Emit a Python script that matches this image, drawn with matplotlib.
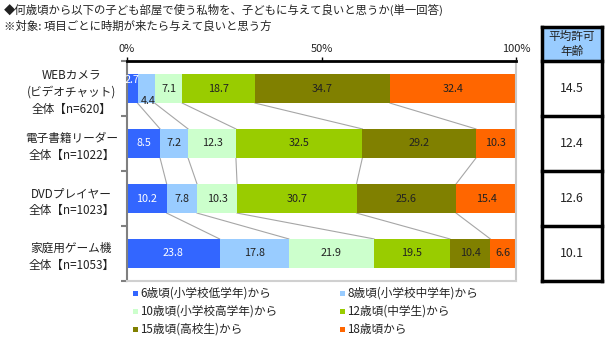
import matplotlib
matplotlib.use("Agg")
import matplotlib.pyplot as plt
from matplotlib.patches import Rectangle
import numpy as np

plt.rcParams['font.family'] = ['Noto Sans CJK JP', 'DejaVu Sans']

title_lines = ["◆何歳頃から以下の子ども部屋で使う私物を、子どもに与えて良いと思うか(単一回答)",
               "※対象: 項目ごとに時期が来たら与えて良いと思う方"]
categories = ["WEBカメラ\n(ビデオチャット)\n全体【n=620】",
              "電子書籍リーダー\n全体【n=1022】",
              "DVDプレイヤー\n全体【n=1023】",
              "家庭用ゲーム機\n全体【n=1053】"]
series_names = ["6歳頃(小学校低学年)から", "8歳頃(小学校中学年)から",
                "10歳頃(小学校高学年)から", "12歳頃(中学生)から",
                "15歳頃(高校生)から", "18歳頃から"]
s6 = [2.7, 8.5, 10.2, 23.8]
s8 = [4.4, 7.2, 7.8, 17.8]
s10 = [7.1, 12.3, 10.3, 21.9]
s12 = [18.7, 32.5, 30.7, 19.5]
s15 = [34.7, 29.2, 25.6, 10.4]
s18 = [32.4, 10.3, 15.4, 6.6]
avg_age = [14.5, 12.4, 12.6, 10.1]
table_header = "平均許可\n年齢"
xticks = [0, 50, 100]
xticklabels = ["0%", "50%", "100%"]

colors = ["#3366FF", "#99CCFF", "#CCFFCC", "#99CC00", "#808000", "#FF6600"]
text_colors = ["white", "#222222", "#222222", "#222222", "#222222", "#222222"]

series = [s6, s8, s10, s12, s15, s18]
data = np.array(series)  # shape (6, 4)

fig = plt.figure(figsize=(6.05, 3.37), dpi=100)
W, H = 605, 337
ax_l, ax_r, ax_t, ax_b = 127, 516, 61, 281
ax = fig.add_axes([ax_l / W, 1 - ax_b / H, (ax_r - ax_l) / W, (ax_b - ax_t) / H])

y = np.arange(len(categories))
bar_h = 0.53
left = np.zeros(len(categories))
for k, vals in enumerate(series):
    vals = np.array(vals)
    ax.barh(y, vals, left=left, height=bar_h, color=colors[k], edgecolor='none', zorder=2)
    for i, v in enumerate(vals):
        cx = left[i] + v / 2
        cy = y[i]
        if i == 0 and k == 0:
            cy = y[i] - 0.15
        if i == 0 and k == 1:
            cx = left[i] + v / 2 + 0.5
            cy = y[i] + 0.22
        ax.text(cx, cy, f"{v:.1f}", ha='center', va='center', fontsize=7.8,
                color=text_colors[k], zorder=4)
    left = left + vals

# connector lines
cum = np.cumsum(data, axis=0)[:-1]  # boundaries
for i in range(len(categories) - 1):
    for b in range(cum.shape[0]):
        ax.plot([cum[b, i], cum[b, i + 1]], [y[i] + bar_h / 2, y[i + 1] - bar_h / 2],
                color="#A6A6A6", lw=0.8, zorder=1)

ax.set_xlim(0, 100)
ax.set_ylim(len(categories) - 0.5, -0.5)
ax.xaxis.tick_top()
ax.set_xticks(xticks)
ax.set_xticklabels(xticklabels, fontsize=8, color="#222222")
ax.tick_params(axis='x', length=3, width=1, color='black', pad=2)
ax.set_yticks(np.arange(len(categories) + 1) - 0.5, minor=True)
ax.set_yticks(y)
ax.set_yticklabels(categories, fontsize=8.4, linespacing=1.4, ha='center', color="#222222")
ax.tick_params(axis='y', which='major', length=0, pad=40)
ax.tick_params(axis='y', which='minor', length=4, width=1.5, color='#808080')
ax.spines['top'].set_color('black')
ax.spines['top'].set_linewidth(2)
ax.spines['left'].set_color('#808080')
ax.spines['left'].set_linewidth(1.5)
ax.spines['right'].set_color('#C8C8C8')
ax.spines['right'].set_linewidth(1.5)
ax.spines['bottom'].set_color('#D0D0D0')
ax.spines['bottom'].set_linewidth(1.5)

# title
fig.text(4 / W, 1 - 10 / H, title_lines[0], fontsize=8.2, va='center', ha='left', color="#222222")
fig.text(4 / W, 1 - 26 / H, title_lines[1], fontsize=8.2, va='center', ha='left', color="#222222")

# legend
leg_x = [133, 340]
leg_y = [293, 311, 329]
for k, name in enumerate(series_names):
    col = k % 2
    row = k // 2
    xx = leg_x[col]
    yy = leg_y[row]
    fig.patches.append(Rectangle((xx / W, 1 - (yy + 3) / H), 5 / W, 5 / H,
                                 transform=fig.transFigure, facecolor=colors[k], edgecolor='none'))
    fig.text((xx + 7) / W, 1 - yy / H, name, fontsize=8.4, va='center', ha='left', color="#222222")

# table
t_l, t_r, t_t, t_b = 542, 602, 27, 281
tax = fig.add_axes([t_l / W, 1 - t_b / H, (t_r - t_l) / W, (t_b - t_t) / H])
hdr = (ax_t - t_t) / ((ax_b - ax_t) / len(categories))
tax.set_xlim(0, 1)
tax.set_ylim(len(categories) - 0.5, -0.5 - hdr)
tax.axis('off')
tax.add_patch(Rectangle((0, -0.5 - hdr), 1, hdr, facecolor="#99CCFF", edgecolor='none'))
tax.text(0.5, -0.5 - hdr / 2, table_header, ha='center', va='center', fontsize=8.4,
         linespacing=1.2, color="#222222")
for i, v in enumerate(avg_age):
    tax.text(0.5, y[i], f"{v:.1f}", ha='center', va='center', fontsize=8.8, color="#222222")
for yy in [-0.5 - hdr] + list(np.arange(len(categories) + 1) - 0.5):
    tax.plot([0, 1], [yy, yy], color='black', lw=2.5, clip_on=False, solid_capstyle='projecting')
tax.plot([0, 0], [-0.5 - hdr, len(categories) - 0.5], color='black', lw=2.5, clip_on=False)
tax.plot([1, 1], [-0.5 - hdr, len(categories) - 0.5], color='black', lw=2.5, clip_on=False)

fig.savefig("out.png", dpi=100, facecolor='white')
